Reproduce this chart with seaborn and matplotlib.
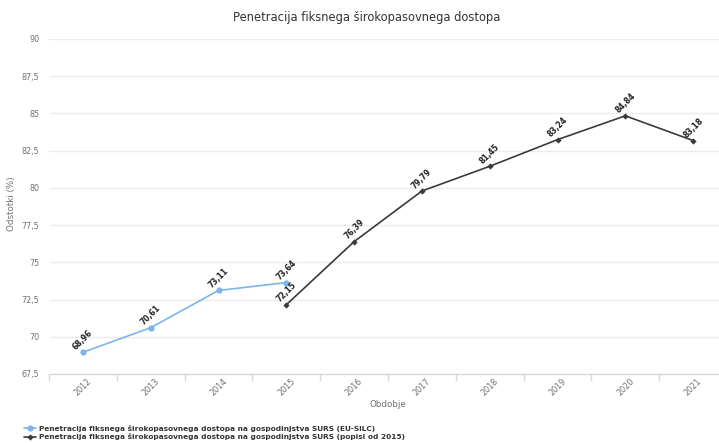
import matplotlib
matplotlib.use("Agg")
import matplotlib.pyplot as plt
import seaborn as sns
import pandas as pd
from matplotlib.ticker import FuncFormatter, FixedLocator

categories = ["2012", "2013", "2014", "2015", "2016", "2017", "2018", "2019", "2020", "2021"]

silc_years = ["2012", "2013", "2014", "2015"]
silc_values = [68.96, 70.61, 73.11, 73.64]

popisi_years = ["2015", "2016", "2017", "2018", "2019", "2020", "2021"]
popisi_values = [72.15, 76.39, 79.79, 81.45, 83.24, 84.84, 83.18]

series_names = [
    "Penetracija fiksnega širokopasovnega dostopa na gospodinjstva SURS (EU-SILC)",
    "Penetracija fiksnega širokopasovnega dostopa na gospodinjstva SURS (popisi od 2015)",
]
title = "Penetracija fiksnega širokopasovnega dostopa"
y_ticks = [67.5, 70, 72.5, 75, 77.5, 80, 82.5, 85, 87.5, 90]

df = pd.concat([
    pd.DataFrame({"leto": silc_years, "vrednost": silc_values, "serija": series_names[0]}),
    pd.DataFrame({"leto": popisi_years, "vrednost": popisi_values, "serija": series_names[1]}),
], ignore_index=True)
df["x"] = df["leto"].map({c: i for i, c in enumerate(categories)})

sns.set_theme(style="white")
plt.rcParams["font.family"] = ["DejaVu Sans"]

W, H = 719, 443
fig = plt.figure(figsize=(W / 100, H / 100), dpi=100)
left, right, top, bottom = 49, 727, 39, 374
ax = fig.add_axes([left / W, 1 - bottom / H, (right - left) / W, (bottom - top) / H])

colors = {series_names[0]: "#7cb5ec", series_names[1]: "#3a3a3e"}
markers = {series_names[0]: "o", series_names[1]: "D"}
sizes = {series_names[0]: 4.5, series_names[1]: 3.2}

for name in series_names:
    sub = df[df["serija"] == name]
    sns.lineplot(data=sub, x="x", y="vrednost", ax=ax, color=colors[name],
                 marker=markers[name], markersize=sizes[name], markeredgewidth=0,
                 linewidth=1.2, label=name, legend=False)
    for xv, yv in zip(sub["x"], sub["vrednost"]):
        ax.annotate(f"{yv:.2f}".replace(".", ","), (xv, yv), xytext=(0, 9),
                    textcoords="offset points", ha="center", va="center",
                    rotation=45, fontsize=5.5, fontweight="bold", color="#222222")

ax.set_xlim(-0.5, len(categories) - 0.5)
ax.set_ylim(67.5, 90)
ax.yaxis.set_major_locator(FixedLocator(y_ticks))
ax.yaxis.set_major_formatter(FuncFormatter(lambda v, p: (f"{v:g}").replace(".", ",")))
ax.set_xticks(range(len(categories)))
ax.set_xticklabels(categories, rotation=45, ha="center", rotation_mode="default")
ax.set_xticks([i - 0.5 for i in range(len(categories) + 1)], minor=True)

ax.grid(axis="y", color="#ececec", linewidth=1)
ax.set_axisbelow(True)
for s in ["top", "right", "left"]:
    ax.spines[s].set_visible(False)
ax.spines["bottom"].set_color("#d9d9d9")
ax.spines["bottom"].set_linewidth(1)

ax.tick_params(axis="y", which="both", length=0, labelsize=5.8, labelcolor="#707070", pad=7)
ax.tick_params(axis="x", which="major", length=0, labelsize=5.8, labelcolor="#707070", pad=2)
ax.tick_params(axis="x", which="minor", length=5, color="#d9d9d9", width=1, bottom=True)

ax.set_xlabel("Obdobje", fontsize=6.3, color="#707070", labelpad=2)
ax.set_ylabel("Odstotki (%)", fontsize=6.3, color="#707070")
ax.yaxis.set_label_coords(-33 / (right - left), 0.51)

fig.text(0.51, 1 - 18 / H, title, ha="center", va="center", fontsize=8.3, color="#333333")

handles, labels = ax.get_legend_handles_labels()
leg = fig.legend(handles, labels, loc="lower left", bbox_to_anchor=(18 / W, -3 / H),
                 frameon=False, fontsize=5.3, handlelength=1.6, handletextpad=0.5,
                 labelspacing=0.15, borderpad=0.3)
for t in leg.get_texts():
    t.set_fontweight("bold")
    t.set_color("#333333")

fig.savefig("out.png", dpi=100)
